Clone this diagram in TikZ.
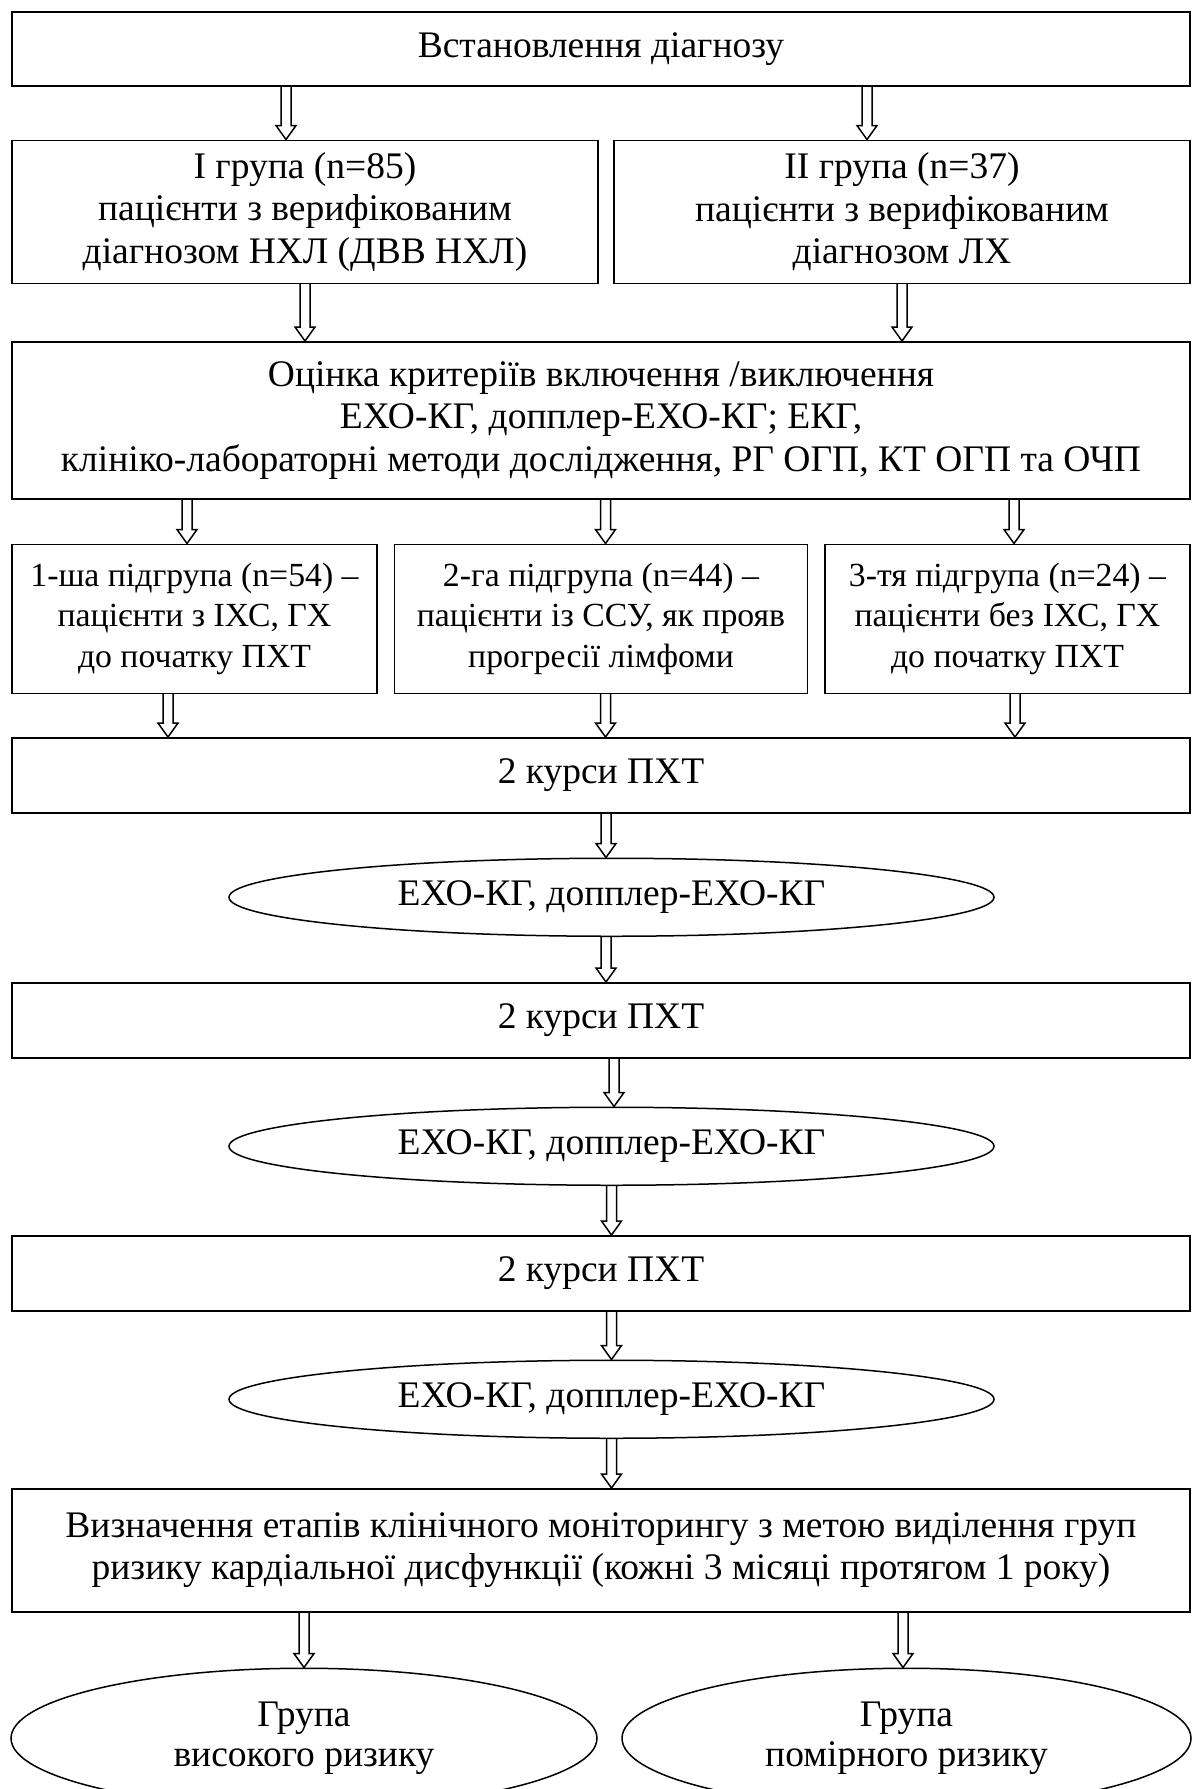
\documentclass[tikz,border=0pt]{standalone}
\usepackage{fontspec}
\setmainfont{Liberation Serif}
\usetikzlibrary{shapes.geometric,positioning,calc}

\begin{document}
\begin{tikzpicture}[
    node distance=18pt,
    box/.style={draw, line width=0.6pt, align=center, inner sep=2pt, font=\fontsize{15pt}{17pt}\selectfont},
    sbox/.style={box, font=\fontsize{13.5pt}{16.2pt}\selectfont},
    oval/.style={draw, ellipse, line width=0.6pt, align=center, inner sep=0pt, font=\fontsize{15pt}{16.2pt}\selectfont},
    harrow/.style={line width=0.6pt, to path={let \p1=(\tikztostart), \p2=(\tikztotarget) in
        (\x1-2pt,\y1) -- (\x1-2pt,\y2+5.6pt) -- (\x1-4pt,\y2+5.6pt) -- (\x1,\y2)
        -- (\x1+4pt,\y2+5.6pt) -- (\x1+2pt,\y2+5.6pt) -- (\x1+2pt,\y1)}}
]
\useasboundingbox (0,0) rectangle (476.8pt,-715.6pt);

\node[box, minimum width=471.2pt, minimum height=29.6pt, anchor=north] (diag) at (240.4pt,-4.4pt) {Встановлення діагнозу};
\node[box, minimum width=234.4pt, minimum height=57.2pt, below=21.2pt of diag.south west, anchor=north west] (grp1) {I група (n=85)\\пацієнти з верифікованим\\діагнозом НХЛ (ДВВ НХЛ)};
\node[box, minimum width=230.4pt, minimum height=57.2pt, below=21.2pt of diag.south east, anchor=north east] (grp2) {II група (n=37)\\пацієнти з верифікованим\\діагнозом ЛХ};
\node[box, minimum width=471.2pt, minimum height=62.8pt, below=22.8pt of grp1.south west, anchor=north west] (crit) {Оцінка критеріїв включення /виключення\\ЕХО-КГ, допплер-ЕХО-КГ; ЕКГ,\\клініко-лабораторні методи дослідження, РГ ОГП, КТ ОГП та ОЧП};
\node[sbox, minimum width=146pt, minimum height=59.6pt, below=17.6pt of crit.south west, anchor=north west] (sub1) {1-ша підгрупа (n=54) –\\пацієнти з ІХС, ГХ\\до початку ПХТ};
\node[sbox, minimum width=165.2pt, minimum height=59.6pt, below=17.6pt of crit] (sub2) {2-га підгрупа (n=44) –\\пацієнти із ССУ, як прояв\\прогресії лімфоми};
\node[sbox, minimum width=146pt, minimum height=59.6pt, below=17.6pt of crit.south east, anchor=north east] (sub3) {3-тя підгрупа (n=24) –\\пацієнти без ІХС, ГХ\\до початку ПХТ};
\node[box, minimum width=471.2pt, minimum height=30pt, below=17.2pt of sub1.south west, anchor=north west] (chem1) {2 курси ПХТ};
\node[oval, minimum width=306pt, minimum height=31.2pt, below=17.6pt of chem1, xshift=4.2pt] (echo1) {ЕХО-КГ, допплер-ЕХО-КГ};
\node[box, minimum width=471.2pt, minimum height=30pt, below=18pt of echo1, xshift=-4.2pt] (chem2) {2 курси ПХТ};
\node[oval, minimum width=306pt, minimum height=31.2pt, below=19.2pt of chem2, xshift=4.2pt] (echo2) {ЕХО-КГ, допплер-ЕХО-КГ};
\node[box, minimum width=471.2pt, minimum height=30pt, below=19.6pt of echo2, xshift=-4.2pt] (chem3) {2 курси ПХТ};
\node[oval, minimum width=306pt, minimum height=31.2pt, below=19.2pt of chem3, xshift=4.2pt] (echo3) {ЕХО-КГ, допплер-ЕХО-КГ};
\node[box, minimum width=471.2pt, minimum height=49.2pt, below=19.6pt of echo3, xshift=-4.2pt] (stage) {Визначення етапів клінічного моніторингу з метою виділення груп\\ризику кардіальної дисфункції (кожні 3 місяці протягом 1 року)};
\node[oval, minimum width=234.4pt, minimum height=56pt, below=22pt of stage, xshift=-118.8pt] (high) {Група\\високого ризику};
\node[oval, minimum width=227.6pt, minimum height=56pt, below=22pt of stage, xshift=122.2pt] (mod) {Група\\помірного ризику};

\draw[harrow] ([xshift=-7.6pt]grp1.north |- diag.south) to ([xshift=-7.6pt]grp1.north);
\draw[harrow] ([xshift=-14pt]grp2.north |- diag.south) to ([xshift=-14pt]grp2.north);
\draw[harrow] (grp1.south) to (grp1.south |- crit.north);
\draw[harrow] (grp2.south) to (grp2.south |- crit.north);
\draw[harrow] ([xshift=-3pt]sub1.north |- crit.south) to ([xshift=-3pt]sub1.north);
\draw[harrow] ([xshift=1.8pt]sub2.north |- crit.south) to ([xshift=1.8pt]sub2.north);
\draw[harrow] ([xshift=2.6pt]sub3.north |- crit.south) to ([xshift=2.6pt]sub3.north);
\draw[harrow] ([xshift=-10.6pt]sub1.south) to ([xshift=-10.6pt]sub1.south |- chem1.north);
\draw[harrow] ([xshift=1.8pt]sub2.south) to ([xshift=1.8pt]sub2.south |- chem1.north);
\draw[harrow] ([xshift=3pt]sub3.south) to ([xshift=3pt]sub3.south |- chem1.north);
\draw[harrow] ([xshift=-2.2pt]echo1.north |- chem1.south) to ([xshift=-2.2pt]echo1.north);
\draw[harrow] ([xshift=-2.2pt]echo1.south) to ([xshift=-2.2pt]echo1.south |- chem2.north);
\draw[harrow] ([xshift=1pt]echo2.north |- chem2.south) to ([xshift=1pt]echo2.north);
\draw[harrow] (echo2.south) to (echo2.south |- chem3.north);
\draw[harrow] (echo3.north |- chem3.south) to (echo3.north);
\draw[harrow] (echo3.south) to (echo3.south |- stage.north);
\draw[harrow] (high.north |- stage.south) to (high.north);
\draw[harrow] ([xshift=-1.4pt]mod.north |- stage.south) to ([xshift=-1.4pt]mod.north);
\end{tikzpicture}
\end{document}
